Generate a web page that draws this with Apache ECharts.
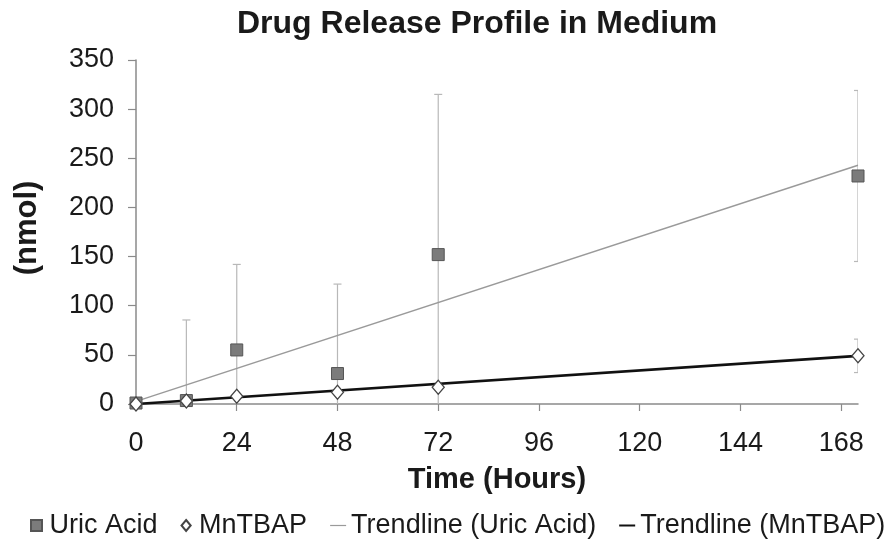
<!DOCTYPE html>
<html>
<head>
<meta charset="utf-8">
<script src="https://cdn.jsdelivr.net/npm/echarts@6/dist/echarts.min.js"></script>
<style>html,body{margin:0;padding:0;background:#fff;}#c{width:887px;height:544px;}</style>
</head>
<body>
<div id="c"></div>
<script>
// ---- data ----
var times = [0, 12, 24, 48, 72, 172];
var uricAcid = [1, 3.5, 55, 31, 152, 232];
var uricErr = [0, 82, 87, 91, 163, 87];
var mnTBAP = [0, 3, 8, 12, 17, 49];
var mnErr = [0, 1, 1, 2, 2, 17];
var trendX = [0, 172];
var trendUric = [2.7, 243];
var trendMn = [0, 49];
var xTicks = [0, 24, 48, 72, 96, 120, 144, 168];
var seriesNames = ['Uric Acid', 'MnTBAP', 'Trendline (Uric Acid)', 'Trendline (MnTBAP)'];

var FONT = 'Liberation Sans, Arial, sans-serif';

function pairs(xs, ys) { return xs.map(function (x, i) { return [x, ys[i]]; }); }
function errData(xs, ys, es) { return xs.map(function (x, i) { return [x, ys[i] - es[i], ys[i] + es[i]]; }); }

function renderErr(params, api) {
  var x = api.value(0), lo = api.value(1), hi = api.value(2);
  if (hi === lo) return null;
  var top = api.coord([x, hi]);
  var bot = api.coord([x, lo]);
  var hw = 4;
  var st = { stroke: '#b8b8b8', lineWidth: 1.2 };
  return {
    type: 'group',
    children: [
      { type: 'line', shape: { x1: top[0], y1: top[1], x2: bot[0], y2: bot[1] }, style: st },
      { type: 'line', shape: { x1: top[0] - hw, y1: top[1], x2: top[0] + hw, y2: top[1] }, style: st },
      { type: 'line', shape: { x1: bot[0] - hw, y1: bot[1], x2: bot[0] + hw, y2: bot[1] }, style: st }
    ]
  };
}

var chart = echarts.init(document.getElementById('c'), null, { renderer: 'canvas' });
chart.setOption({
  animation: false,
  backgroundColor: '#ffffff',
  title: {
    text: 'Drug Release Profile in Medium',
    left: 232, top: 3,
    textStyle: { fontFamily: FONT, fontSize: 32, fontWeight: 'bold', color: '#1a1a1a' }
  },
  grid: { left: 136, right: 29, top: 60, bottom: 140, containLabel: false },
  xAxis: {
    type: 'value', min: 0, max: 172, interval: 24,
    name: 'Time (Hours)', nameLocation: 'middle', nameGap: 61,
    nameTextStyle: { fontFamily: FONT, fontSize: 29, fontWeight: 'bold', color: '#1a1a1a' },
    axisLine: { show: true, lineStyle: { color: '#8a8a8a', width: 1.5 } },
    axisTick: { show: true, length: 7, customValues: xTicks, lineStyle: { color: '#8a8a8a', width: 1.2 } },
    axisLabel: { customValues: xTicks, margin: 26, fontFamily: FONT, fontSize: 27, color: '#1a1a1a' },
    splitLine: { show: false }
  },
  yAxis: {
    type: 'value', min: 0, max: 350, interval: 50,
    name: '(nmol)', nameLocation: 'middle', nameGap: 93, nameRotate: 90,
    nameTextStyle: { fontFamily: FONT, fontSize: 31, fontWeight: 'bold', color: '#1a1a1a', padding: [0, 0, 0, 8] },
    axisLine: { show: true, lineStyle: { color: '#8a8a8a', width: 1.5 } },
    axisTick: { show: true, length: 8, lineStyle: { color: '#8a8a8a', width: 1.2 } },
    axisLabel: { margin: 22, fontFamily: FONT, fontSize: 27, color: '#1a1a1a' },
    splitLine: { show: false }
  },
  legend: {
    left: 30, top: 512, padding: 0, itemGap: 23, itemWidth: 16, itemHeight: 11,
    textStyle: { fontFamily: FONT, fontSize: 27, color: '#1a1a1a' },
    data: [
      { name: seriesNames[0], icon: 'path://M0,0H10V10H0Z' },
      { name: seriesNames[1], icon: 'path://M5,0L10,6L5,12L0,6Z' },
      { name: seriesNames[2], icon: 'path://M0,0H16V1.2H0Z' },
      { name: seriesNames[3], icon: 'path://M0,0H16V2H0Z' }
    ]
  },
  series: [
    {
      name: 'errUric', type: 'custom', clip: true, z: 1,
      encode: { x: 0, y: [1, 2] },
      data: errData(times, uricAcid, uricErr), renderItem: renderErr
    },
    {
      name: 'errMn', type: 'custom', clip: true, z: 1,
      encode: { x: 0, y: [1, 2] },
      data: errData(times, mnTBAP, mnErr), renderItem: renderErr
    },
    {
      name: seriesNames[2], type: 'line', z: 2, showSymbol: false, symbol: 'none',
      data: pairs(trendX, trendUric),
      itemStyle: { color: '#9a9a9a' },
      lineStyle: { color: '#9a9a9a', width: 1.5 }
    },
    {
      name: seriesNames[3], type: 'line', z: 3, showSymbol: false, symbol: 'none',
      data: pairs(trendX, trendMn),
      itemStyle: { color: '#111111' },
      lineStyle: { color: '#111111', width: 2.6 }
    },
    {
      name: seriesNames[0], type: 'scatter', z: 4, symbol: 'rect', symbolSize: 12,
      data: pairs(times, uricAcid),
      itemStyle: { color: '#7b7b7b', borderColor: '#555555', borderWidth: 1, opacity: 1 }
    },
    {
      name: seriesNames[1], type: 'scatter', z: 5, symbol: 'diamond', symbolSize: [12, 14],
      data: pairs(times, mnTBAP),
      itemStyle: { color: '#ffffff', borderColor: '#444444', borderWidth: 1.3, opacity: 1 }
    }
  ]
});
</script>
</body>
</html>
